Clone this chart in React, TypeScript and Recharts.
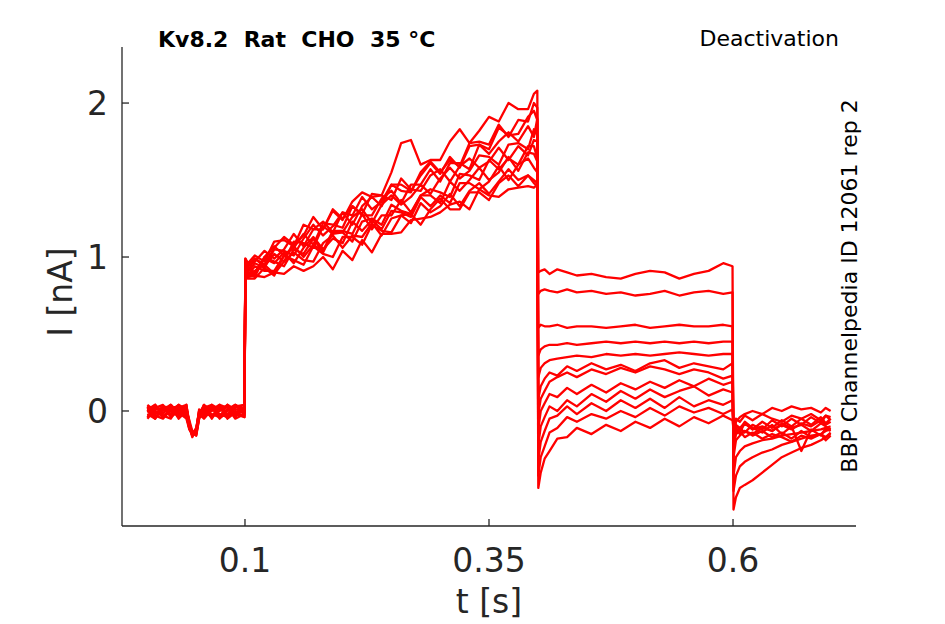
import React from 'react';
import { LineChart, Line, XAxis, YAxis } from 'recharts';

// Kv8.2 deactivation traces, 12 sweeps, values in nA
const T_BASE = [0, 0.008, 0.016, 0.024, 0.032, 0.04, 0.043, 0.046, 0.05, 0.053, 0.058, 0.066, 0.074, 0.082, 0.09, 0.0995];
const T_ON = [0.1004, 0.103];
const T_RISE = [0.11, 0.12, 0.13, 0.14, 0.15, 0.16, 0.17, 0.18, 0.19, 0.2, 0.21, 0.22, 0.23, 0.24, 0.25, 0.26, 0.27, 0.28, 0.29, 0.3, 0.31, 0.32, 0.33, 0.34, 0.35, 0.36, 0.37, 0.38, 0.39, 0.396, 0.3995];
const T_STEP = [0.4005, 0.403, 0.407, 0.412, 0.42, 0.43, 0.44, 0.455, 0.47, 0.485, 0.5, 0.515, 0.53, 0.545, 0.56, 0.575, 0.59, 0.5995];
const T_TAIL = [0.6005, 0.603, 0.607, 0.612, 0.62, 0.63, 0.64, 0.65, 0.66, 0.67, 0.68, 0.69, 0.695, 0.7];

const BASE = [
  [0.03, -0.04, 0.01, 0.04, -0.02, 0.02, -0.09, -0.15, -0.14, -0.03, 0.04, -0.03, 0.0, 0.04, -0.04, 0.02],
  [-0.04, 0.02, 0.04, -0.03, 0.01, -0.04, -0.11, -0.16, -0.13, 0.0, -0.04, 0.03, -0.03, 0.01, 0.04, -0.03],
  [0.01, 0.04, -0.04, 0.0, 0.04, 0.01, -0.06, -0.13, -0.16, -0.05, 0.02, 0.04, -0.04, -0.02, 0.03, 0.04],
  [-0.02, -0.05, 0.03, 0.02, -0.04, 0.04, -0.1, -0.17, -0.12, -0.02, -0.05, 0.01, 0.04, -0.04, 0.0, -0.04],
  [0.04, 0.0, -0.03, -0.05, 0.03, -0.02, -0.12, -0.14, -0.15, -0.04, 0.03, -0.05, 0.02, 0.03, -0.03, 0.03],
  [-0.01, 0.03, 0.0, 0.03, -0.05, 0.0, -0.08, -0.15, -0.13, 0.01, -0.02, 0.02, -0.05, 0.0, 0.04, -0.01],
  [0.02, -0.03, -0.05, 0.01, 0.02, 0.04, -0.1, -0.16, -0.14, -0.03, 0.04, 0.0, 0.03, -0.05, -0.01, 0.02],
  [-0.05, 0.01, 0.02, -0.02, 0.04, -0.03, -0.09, -0.13, -0.15, -0.04, 0.0, -0.04, 0.04, 0.02, -0.05, -0.02],
  [0.0, 0.04, -0.02, 0.04, -0.01, -0.05, -0.12, -0.15, -0.11, -0.01, 0.03, 0.02, -0.02, -0.04, 0.02, 0.04],
  [0.03, -0.02, 0.03, -0.04, 0.0, 0.03, -0.07, -0.16, -0.14, -0.03, -0.04, 0.04, 0.01, 0.03, -0.02, -0.04],
  [-0.03, 0.0, -0.04, 0.02, 0.03, -0.01, -0.11, -0.14, -0.16, -0.05, 0.01, -0.02, -0.04, 0.04, 0.01, 0.0],
  [0.01, -0.05, 0.02, 0.0, -0.03, 0.02, -0.09, -0.15, -0.12, 0.0, -0.03, 0.03, 0.02, -0.03, 0.04, 0.01],
];

const ON = [
  [0.97, 0.9], [0.95, 0.93], [0.99, 0.95], [0.93, 0.88], [0.96, 0.89], [0.98, 0.94],
  [0.92, 0.86], [0.97, 0.91], [0.94, 0.87], [0.95, 0.89], [0.99, 0.96], [0.93, 0.88],
];

const RISE = [
  [0.96, 0.93, 1.05, 1.04, 1.01, 1.12, 1.21, 1.14, 1.2, 1.29, 1.21, 1.33, 1.39, 1.33, 1.47, 1.43, 1.42, 1.55, 1.62, 1.55, 1.63, 1.59, 1.74, 1.75, 1.73, 1.86, 1.78, 1.89, 1.88, 2.0, 1.97],
  [0.9, 1.0, 1.07, 1.01, 1.06, 1.15, 1.08, 1.22, 1.21, 1.19, 1.33, 1.27, 1.27, 1.38, 1.43, 1.35, 1.47, 1.47, 1.57, 1.49, 1.61, 1.61, 1.57, 1.73, 1.67, 1.75, 1.81, 1.75, 1.85, 1.78, 1.9],
  [0.99, 0.95, 1.06, 1.13, 1.08, 1.14, 1.26, 1.18, 1.3, 1.24, 1.36, 1.42, 1.39, 1.4, 1.55, 1.74, 1.76, 1.6, 1.63, 1.63, 1.75, 1.83, 1.74, 1.82, 1.91, 1.88, 2.0, 1.96, 1.96, 2.06, 2.08],
  [0.94, 0.91, 0.91, 1.01, 1.07, 1.0, 1.08, 1.04, 1.17, 1.17, 1.15, 1.28, 1.18, 1.27, 1.27, 1.37, 1.29, 1.4, 1.44, 1.42, 1.39, 1.54, 1.53, 1.5, 1.63, 1.57, 1.64, 1.6, 1.72, 1.72, 1.64],
  [0.89, 0.99, 0.96, 1.03, 0.96, 1.06, 1.13, 1.05, 1.12, 1.09, 1.23, 1.17, 1.24, 1.18, 1.3, 1.29, 1.26, 1.39, 1.33, 1.4, 1.35, 1.48, 1.48, 1.44, 1.49, 1.59, 1.5, 1.6, 1.64, 1.58, 1.55],
  [0.97, 1.04, 0.99, 1.05, 1.15, 1.07, 1.18, 1.23, 1.16, 1.29, 1.27, 1.39, 1.31, 1.36, 1.47, 1.47, 1.43, 1.53, 1.61, 1.54, 1.65, 1.58, 1.72, 1.73, 1.7, 1.84, 1.79, 1.8, 1.91, 1.95, 1.89],
  [0.86, 0.93, 0.88, 1.01, 0.98, 0.95, 1.07, 1.02, 1.0, 1.13, 1.13, 1.08, 1.21, 1.17, 1.16, 1.27, 1.28, 1.21, 1.31, 1.38, 1.31, 1.31, 1.42, 1.42, 1.37, 1.48, 1.53, 1.46, 1.53, 1.48, 1.46],
  [0.99, 0.94, 1.02, 0.97, 1.1, 1.09, 1.06, 1.2, 1.15, 1.16, 1.26, 1.31, 1.22, 1.34, 1.4, 1.34, 1.39, 1.47, 1.41, 1.51, 1.58, 1.51, 1.56, 1.66, 1.65, 1.6, 1.73, 1.74, 1.7, 1.83, 1.79],
  [0.88, 0.87, 0.9, 0.89, 0.94, 0.91, 0.94, 1.0, 0.92, 1.04, 0.98, 1.11, 1.03, 1.15, 1.15, 1.16, 1.24, 1.25, 1.26, 1.29, 1.34, 1.36, 1.31, 1.44, 1.4, 1.39, 1.44, 1.45, 1.46, 1.45, 1.47],
  [0.87, 1.0, 0.97, 0.94, 1.05, 1.02, 1.12, 1.03, 1.16, 1.16, 1.1, 1.23, 1.25, 1.21, 1.34, 1.3, 1.28, 1.4, 1.4, 1.35, 1.49, 1.43, 1.5, 1.58, 1.5, 1.55, 1.65, 1.56, 1.68, 1.67, 1.62],
  [1.01, 0.97, 1.1, 1.11, 1.07, 1.21, 1.18, 1.18, 1.31, 1.25, 1.33, 1.28, 1.41, 1.4, 1.37, 1.51, 1.44, 1.43, 1.53, 1.57, 1.49, 1.59, 1.64, 1.58, 1.62, 1.71, 1.63, 1.72, 1.66, 1.76, 1.75],
  [0.91, 0.95, 0.89, 0.97, 1.03, 0.98, 0.97, 1.09, 1.14, 1.06, 1.14, 1.13, 1.22, 1.14, 1.25, 1.27, 1.22, 1.35, 1.29, 1.33, 1.41, 1.33, 1.43, 1.48, 1.41, 1.49, 1.57, 1.5, 1.53, 1.5, 1.48],
];

const STEP = [
  [0.9, 0.91, 0.92, 0.89, 0.92, 0.9, 0.88, 0.89, 0.87, 0.86, 0.89, 0.91, 0.9, 0.86, 0.89, 0.91, 0.96, 0.94],
  [0.76, 0.78, 0.79, 0.78, 0.77, 0.79, 0.77, 0.78, 0.76, 0.77, 0.75, 0.76, 0.78, 0.75, 0.77, 0.78, 0.76, 0.77],
  [0.54, 0.56, 0.55, 0.55, 0.56, 0.54, 0.55, 0.55, 0.54, 0.55, 0.56, 0.54, 0.55, 0.56, 0.55, 0.55, 0.56, 0.55],
  [0.36, 0.4, 0.42, 0.43, 0.43, 0.44, 0.43, 0.44, 0.45, 0.44, 0.45, 0.44, 0.45, 0.44, 0.45, 0.44, 0.45, 0.45],
  [0.22, 0.28, 0.31, 0.33, 0.34, 0.35, 0.36, 0.35, 0.37, 0.36, 0.37, 0.36, 0.37, 0.38, 0.37, 0.36, 0.37, 0.37],
  [0.08, 0.16, 0.21, 0.25, 0.23, 0.29, 0.26, 0.31, 0.27, 0.3, 0.26, 0.31, 0.33, 0.28, 0.31, 0.29, 0.27, 0.31],
  [-0.02, 0.08, 0.13, 0.19, 0.22, 0.25, 0.22, 0.27, 0.24, 0.28, 0.25, 0.29, 0.27, 0.24, 0.27, 0.25, 0.21, 0.23],
  [-0.12, 0.0, 0.05, 0.11, 0.09, 0.15, 0.11, 0.17, 0.12, 0.18, 0.14, 0.19, 0.15, 0.2, 0.16, 0.21, 0.17, 0.19],
  [-0.22, -0.1, -0.04, 0.03, 0.0, 0.07, 0.03, 0.11, 0.06, 0.13, 0.08, 0.14, 0.09, 0.13, 0.16, 0.1, 0.14, 0.12],
  [-0.32, -0.2, -0.13, -0.05, -0.03, 0.03, -0.02, 0.05, 0.0, 0.07, 0.02, 0.08, 0.02, 0.09, 0.03, 0.07, 0.04, 0.07],
  [-0.42, -0.3, -0.23, -0.14, -0.11, -0.04, -0.07, -0.02, -0.05, 0.0, -0.04, 0.02, -0.03, 0.03, -0.01, 0.02, -0.02, 0.01],
  [-0.5, -0.4, -0.31, -0.26, -0.18, -0.17, -0.11, -0.15, -0.09, -0.13, -0.07, -0.11, -0.05, -0.1, -0.04, -0.08, -0.03, -0.06],
];

const TAIL = [
  [-0.64, -0.56, -0.5, -0.48, -0.45, -0.4, -0.35, -0.3, -0.27, -0.24, -0.22, -0.19, -0.17, -0.15],
  [-0.52, -0.42, -0.36, -0.33, -0.3, -0.27, -0.25, -0.22, -0.2, -0.18, -0.16, -0.15, -0.13, -0.12],
  [-0.42, -0.3, -0.26, -0.23, -0.21, -0.19, -0.18, -0.16, -0.15, -0.14, -0.13, -0.12, -0.11, -0.1],
  [-0.3, -0.19, -0.16, -0.13, -0.15, -0.11, -0.13, -0.09, -0.12, -0.08, -0.1, -0.06, -0.09, -0.07],
  [-0.25, -0.15, -0.11, -0.14, -0.09, -0.12, -0.06, -0.1, -0.05, -0.09, -0.04, -0.08, -0.03, -0.06],
  [-0.22, -0.13, -0.14, -0.08, -0.12, -0.07, -0.11, -0.06, -0.1, -0.05, -0.09, -0.04, -0.08, -0.05],
  [-0.2, -0.1, -0.12, -0.07, -0.11, -0.14, -0.09, -0.15, -0.1, -0.26, -0.12, -0.16, -0.11, -0.13],
  [-0.18, -0.07, -0.04, -0.02, 0.0, -0.02, 0.02, 0.0, 0.03, 0.01, 0.02, -0.01, 0.02, 0.0],
  [-0.16, -0.05, -0.07, -0.03, -0.06, -0.02, -0.05, -0.07, -0.03, -0.05, -0.02, -0.06, -0.03, -0.04],
  [-0.15, -0.09, -0.11, -0.08, -0.12, -0.1, -0.13, -0.08, -0.11, -0.09, -0.13, -0.08, -0.1, -0.12],
  [-0.14, -0.11, -0.15, -0.13, -0.16, -0.13, -0.17, -0.14, -0.18, -0.13, -0.17, -0.15, -0.19, -0.16],
  [-0.12, -0.15, -0.13, -0.17, -0.14, -0.18, -0.15, -0.17, -0.2, -0.16, -0.18, -0.15, -0.17, -0.14],
];

const X_TICKS = [0.1, 0.35, 0.6];
const Y_TICKS = [0, 1, 2];

const T = [...T_BASE, ...T_ON, ...T_RISE, ...T_STEP, ...T_TAIL];
const sweeps = BASE.map((b, k) => [...b, ...ON[k], ...RISE[k], ...STEP[k], ...TAIL[k]]);
const rows = T.map((t, i) => {
  const r: Record<string, number> = { t };
  sweeps.forEach((s, k) => { r[`c${k}`] = s[i]; });
  return r;
});

const INK = '#262626';
const FONT = 'DejaVu Sans, sans-serif';

function XTick({ x, payload }: any) {
  return (
    <text x={x} y={572} textAnchor="middle" fill={INK} fontSize={33} fontFamily={FONT}>
      {payload.value}
    </text>
  );
}

function YTick({ y, payload }: any) {
  return (
    <text x={108} y={y + 12} textAnchor="end" fill={INK} fontSize={33} fontFamily={FONT}>
      {payload.value}
    </text>
  );
}

export default function App() {
  return (
    <div style={{ position: 'absolute', left: 0, top: 0, width: 945, height: 624, background: '#fff' }}>
      <LineChart width={945} height={624} data={rows} margin={{ top: 47, right: 89, bottom: 0, left: 0 }}>
        <XAxis dataKey="t" type="number" domain={[-0.026, 0.726]} ticks={X_TICKS} allowDataOverflow
          height={98} tick={<XTick />} tickSize={-7} tickLine={{ stroke: INK, strokeWidth: 1.3 }}
          axisLine={{ stroke: INK, strokeWidth: 1.3 }} />
        <YAxis type="number" domain={[-0.747, 2.364]} ticks={Y_TICKS} allowDataOverflow
          width={122} tick={<YTick />} tickSize={-7} tickLine={{ stroke: INK, strokeWidth: 1.3 }}
          axisLine={{ stroke: INK, strokeWidth: 1.3 }} />
        {sweeps.map((_, k) => (
          <Line key={k} dataKey={`c${k}`} type="linear" stroke="#ff0000" strokeWidth={2.3}
            strokeLinejoin="round" dot={false} activeDot={false} isAnimationActive={false} />
        ))}
      </LineChart>
      <svg width={945} height={624} style={{ position: 'absolute', left: 0, top: 0, pointerEvents: 'none' }}>
        <text x={158} y={47} fontSize={22} fontWeight="bold" fontFamily={FONT} fill="#000" style={{ whiteSpace: 'pre' }}>
          {'Kv8.2  Rat  CHO  35 °C'}
        </text>
        <text x={839} y={46} textAnchor="end" fontSize={22} fontFamily={FONT} fill="#000">Deactivation</text>
        <text transform="translate(857,286) rotate(-90)" textAnchor="middle" fontSize={22} fontFamily={FONT} fill="#000">
          BBP Channelpedia ID 12061 rep 2
        </text>
        <text x={489} y={613} textAnchor="middle" fontSize={33} fontFamily={FONT} fill={INK}>t [s]</text>
        <text transform="translate(72,292) rotate(-90)" textAnchor="middle" fontSize={33} fontFamily={FONT} fill={INK}>I [nA]</text>
      </svg>
    </div>
  );
}
